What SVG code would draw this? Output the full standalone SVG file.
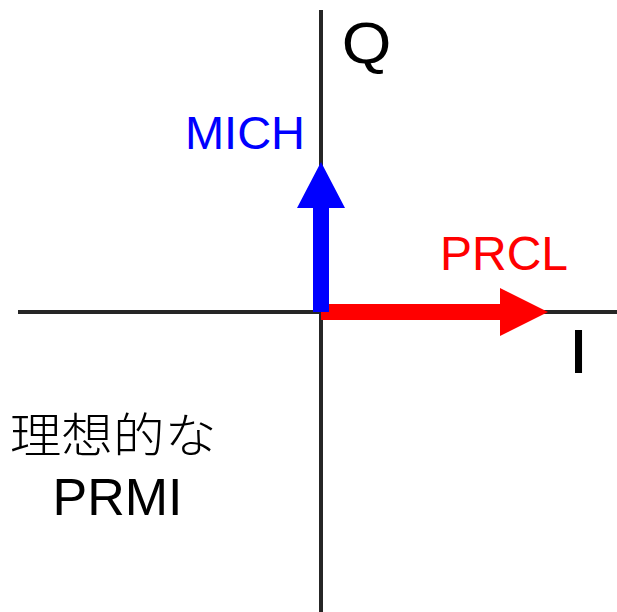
<svg xmlns="http://www.w3.org/2000/svg" width="617" height="612" viewBox="0 0 617 612">
<style>
.axis{stroke:#262626;stroke-width:4;fill:none}
.t{font-family:"Liberation Sans",Arial,sans-serif}
</style>
<rect width="617" height="612" fill="#fff"/>
<g id="connectors">
<line class="axis" x1="321" y1="10" x2="321" y2="612"/>
<line class="axis" x1="18" y1="312" x2="617" y2="312"/>
</g>
<g id="prcl">
<polygon fill="#ff0000" points="321,304 500,304 500,288 548,312 500,336 500,320 321,320"/>
<text class="t" x="504" y="270" font-size="48" fill="#ff0000" text-anchor="middle">PRCL</text>
</g>
<g id="mich">
<polygon fill="#0000ff" points="313,312 313,208 297,208 321,162 345,208 329,208 329,312"/>
<text class="t" x="245" y="149" font-size="47" fill="#0000ff" text-anchor="middle">MICH</text>
</g>
<g id="labels">
<text class="t" transform="translate(366.5,63) scale(1.12,1)" font-size="57" fill="#000" text-anchor="middle">Q</text>
<text class="t" transform="translate(578.5,373) scale(1.2,1)" font-size="63" fill="#000" text-anchor="middle">I</text>
<text transform="translate(113,452) scale(1.1,1)" font-size="47" font-weight="300" fill="#000" text-anchor="middle" font-family="'Noto Sans CJK JP',sans-serif">理想的な</text>
<text class="t" x="117.5" y="515" font-size="52" fill="#000" text-anchor="middle">PRMI</text>
</g>
</svg>
